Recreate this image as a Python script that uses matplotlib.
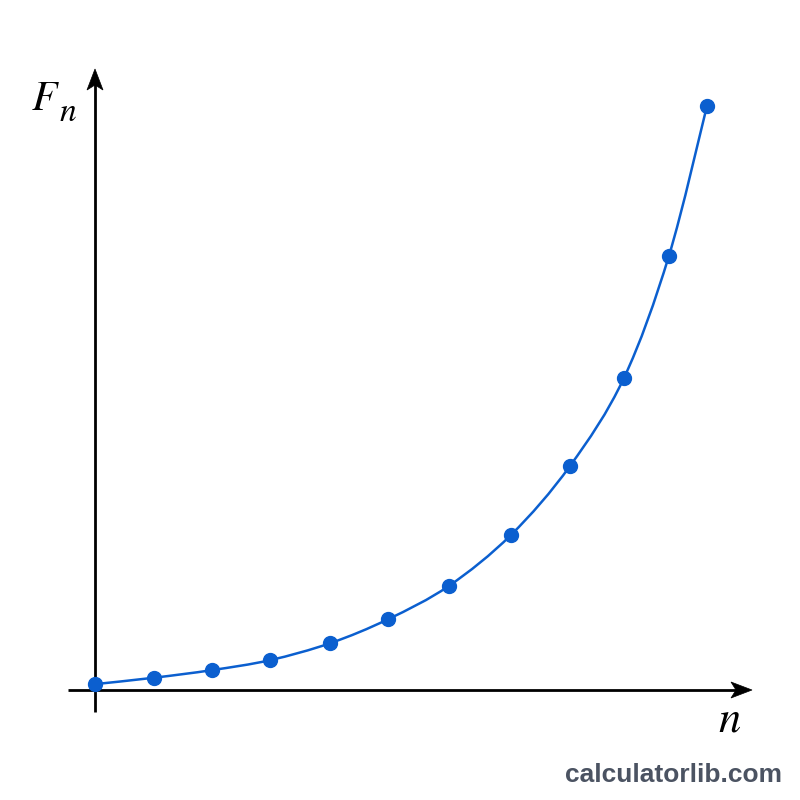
import matplotlib
matplotlib.use("Agg")
import matplotlib.pyplot as plt
import numpy as np
from matplotlib.path import Path
from matplotlib.patches import PathPatch, Polygon

plt.rcParams['mathtext.fontset'] = 'stix'

# data (arbitrary units)
n_vals = [0.0, 1.01, 2.0, 2.99, 4.02, 5.01, 6.05, 7.11, 8.12, 9.04, 9.81, 10.46]
F_vals = [0.10, 0.21, 0.34, 0.51, 0.80, 1.21, 1.78, 2.65, 3.83, 5.33, 7.42, 9.98]

BLUE = '#0b5fcf'
S = 58.5  # px per unit
fig = plt.figure(figsize=(8, 8), dpi=100)
ax = fig.add_axes([0, 0, 1, 1])
ax.set_xlim(-95 / S, (800 - 95) / S)
ax.set_ylim(-(800 - 690) / S, 690 / S)
ax.axis('off')


def P(px, py):
    return ((px - 95) / S, (690 - py) / S)


# axis lines
ax.plot(*zip(P(68, 690), P(740, 690)), color='black', lw=2, solid_capstyle='butt')
ax.plot(*zip(P(95, 712), P(95, 80)), color='black', lw=2, solid_capstyle='butt')
# concave arrowheads
ax.add_patch(Polygon([P(752, 690), P(731, 682), P(736, 690), P(731, 698)], closed=True,
                     facecolor='black', edgecolor='black', lw=0.5))
ax.add_patch(Polygon([P(95, 69), P(87, 90), P(95, 85), P(103, 90)], closed=True,
                     facecolor='black', edgecolor='black', lw=0.5))

# smooth curve (Catmull-Rom as cubic Bezier path)
pts = np.column_stack([n_vals, F_vals])
verts = [tuple(pts[0])]
codes = [Path.MOVETO]
for i in range(len(pts) - 1):
    p0 = pts[i - 1] if i > 0 else pts[i]
    p1 = pts[i]
    p2 = pts[i + 1]
    p3 = pts[i + 2] if i + 2 < len(pts) else pts[i + 1]
    c1 = p1 + (p2 - p0) / 6
    c2 = p2 - (p3 - p1) / 6
    verts += [tuple(c1), tuple(c2), tuple(p2)]
    codes += [Path.CURVE4] * 3
ax.add_patch(PathPatch(Path(verts, codes), fill=False, edgecolor=BLUE, lw=1.8, zorder=3))
ax.plot(n_vals, F_vals, 'o', color=BLUE, markersize=10, zorder=4)

fig.text(31 / 800, 1 - 110 / 800, r'$F$', fontsize=30, ha='left', va='baseline')
fig.text(59 / 800, 1 - 121 / 800, r'$n$', fontsize=24, ha='left', va='baseline')
fig.text(741 / 800, 1 - 732 / 800, r'$n$', fontsize=32, ha='right', va='baseline')
fig.text(782 / 800, 1 - 782 / 800, 'calculatorlib.com', fontsize=19, fontweight='bold',
         family='Liberation Sans', color='#4b5362', ha='right', va='baseline')

fig.savefig('out.png', dpi=100, facecolor='white')
